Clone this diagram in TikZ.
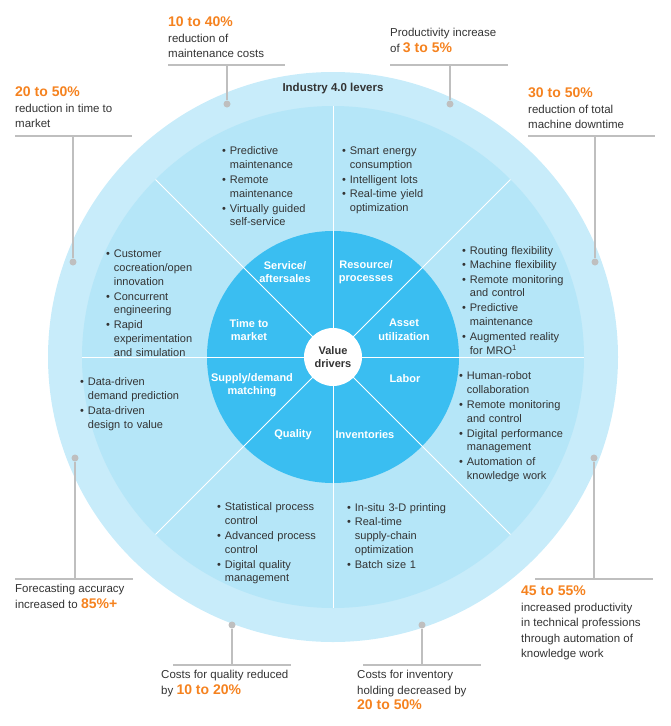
\documentclass[tikz,border=0pt]{standalone}
\usepackage{fontspec}
\setmainfont{Liberation Sans}
\definecolor{outerc}{HTML}{C8ECFA}
\definecolor{midc}{HTML}{B5E6F8}
\definecolor{innerc}{HTML}{3ABEF1}
\definecolor{orng}{HTML}{F5821F}
\definecolor{txt}{HTML}{333333}
\definecolor{gline}{HTML}{BFBFBF}
\newcommand\itm[1]{\par\noindent\makebox[0.7em][l]{\textbullet}\begin{tabular}[t]{@{}l@{}}#1\end{tabular}\par\vspace{0.5pt}}
\newcommand\org[1]{{\color{orng}\bfseries #1}}
\begin{document}
\begin{tikzpicture}[x=1pt,y=-1pt,
  lst/.style={anchor=north west,inner sep=0pt,text width=#1,align=left,font=\fontsize{11}{13.6}\selectfont,text=txt},
  lst/.default=130pt,
  drv/.style={text=white,font=\fontsize{11}{13.5}\selectfont\bfseries,align=center},
  call/.style={anchor=north west,inner sep=0pt,align=left,font=\fontsize{11.5}{15.5}\selectfont,text=txt},
  gl/.style={draw=gline,line width=1.2pt},
  dot/.style={circle,fill=gline,minimum size=7pt,inner sep=0pt}]
\useasboundingbox (0,0) rectangle (671,726);
\coordinate (c) at (333,357);
\fill[outerc] (c) circle (285);
\fill[midc] (c) circle (251);
\fill[innerc] (c) circle (126);
\foreach \a in {0,45,...,315}{\draw[white,line width=0.9pt] (c) -- ++(\a:251);}
\node[circle,fill=white,minimum size=58pt,inner sep=0pt,font=\fontsize{11}{13.5}\selectfont\bfseries,text=txt,align=center] (vd) at (c) {Value\\drivers};
\node[font=\fontsize{11.5}{13}\selectfont\bfseries,text=txt] (lev) at (333,89) {Industry 4.0 levers};
% drivers
\node[drv] (d1) at (285,272) {Service/\\aftersales};
\node[drv] (d2) at (366,272) {Resource/\\processes};
\node[drv] (d3) at (249,330) {Time to\\market};
\node[drv] (d4) at (404,330) {Asset\\utilization};
\node[drv] (d5) at (252,385) {Supply/demand\\matching};
\node[drv] (d6) at (405,379) {Labor};
\node[drv] (d7) at (293,435) {Quality};
\node[drv] (d8) at (365,435) {Inventories};
% lists
\node[lst=110pt] (l1) at (222,141) {\itm{Predictive\\maintenance}\itm{Remote\\maintenance}\itm{Virtually guided\\self-service}};
\node[lst=110pt] (l2) at (342,141) {\itm{Smart energy\\consumption}\itm{Intelligent lots}\itm{Real-time yield\\optimization}};
\node[lst=110pt] (l3) at (106,244) {\itm{Customer\\cocreation/open\\innovation}\itm{Concurrent\\engineering}\itm{Rapid\\experimentation\\and simulation}};
\node[lst=125pt] (l4) at (462,241) {\itm{Routing flexibility}\itm{Machine flexibility}\itm{Remote monitoring\\and control}\itm{Predictive\\maintenance}\itm{Augmented reality\\for MRO\textsuperscript{1}}};
\node[lst=120pt] (l5) at (80,372) {\itm{Data-driven\\demand prediction}\itm{Data-driven\\design to value}};
\node[lst=125pt] (l6) at (459,366) {\itm{Human-robot\\collaboration}\itm{Remote monitoring\\and control}\itm{Digital performance\\management}\itm{Automation of\\knowledge work}};
\node[lst=120pt] (l7) at (217,497) {\itm{Statistical process\\control}\itm{Advanced process\\control}\itm{Digital quality\\management}};
\node[lst=125pt] (l8) at (347,498) {\itm{In-situ 3-D printing}\itm{Real-time\\supply-chain\\optimization}\itm{Batch size 1}};
% callouts
\node[call] (t1) at (168,17) {\org{\fontsize{14}{15.5}\selectfont 10 to 40\%}\\reduction of\\maintenance costs};
\draw[gl] (168,65) -- (285,65); \node[dot] (p1) at (227,104) {}; \draw[gl] (227,65) -- (p1);
\node[call] (t2) at (390,28) {Productivity increase\\of \org{\fontsize{14}{15.5}\selectfont 3 to 5\%}};
\draw[gl] (390,65) -- (508,65); \node[dot] (p2) at (450,104) {}; \draw[gl] (450,65) -- (p2);
\node[call] (t3) at (15,87) {\org{\fontsize{14}{15.5}\selectfont 20 to 50\%}\\reduction in time to\\market};
\draw[gl] (15,136) -- (132,136); \node[dot] (p3) at (73,262) {}; \draw[gl] (73,136) -- (p3);
\node[call] (t4) at (528,88) {\org{\fontsize{14}{15.5}\selectfont 30 to 50\%}\\reduction of total\\machine downtime};
\draw[gl] (528,136) -- (655,136); \node[dot] (p4) at (595,262) {}; \draw[gl] (595,136) -- (p4);
\node[call] (t5) at (15,584) {Forecasting accuracy\\increased to \org{\fontsize{14}{15.5}\selectfont 85\%+}};
\draw[gl] (15,579) -- (133,579); \node[dot] (p5) at (75,458) {}; \draw[gl] (75,579) -- (p5);
\node[call] (t6) at (521,586) {\org{\fontsize{14}{15.5}\selectfont 45 to 55\%}\\increased productivity\\in technical professions\\through automation of\\knowledge work};
\draw[gl] (535,579) -- (653,579); \node[dot] (p6) at (594,458) {}; \draw[gl] (594,579) -- (p6);
\node[call] (t7) at (161,670) {Costs for quality reduced\\by \org{\fontsize{14}{15.5}\selectfont 10 to 20\%}};
\draw[gl] (173,665) -- (291,665); \node[dot] (p7) at (232,625) {}; \draw[gl] (232,665) -- (p7);
\node[call] (t8) at (357,670) {Costs for inventory\\holding decreased by\\\org{\fontsize{14}{15.5}\selectfont 20 to 50\%}};
\draw[gl] (363,665) -- (481,665); \node[dot] (p8) at (422,625) {}; \draw[gl] (422,665) -- (p8);
\end{tikzpicture}
\end{document}
